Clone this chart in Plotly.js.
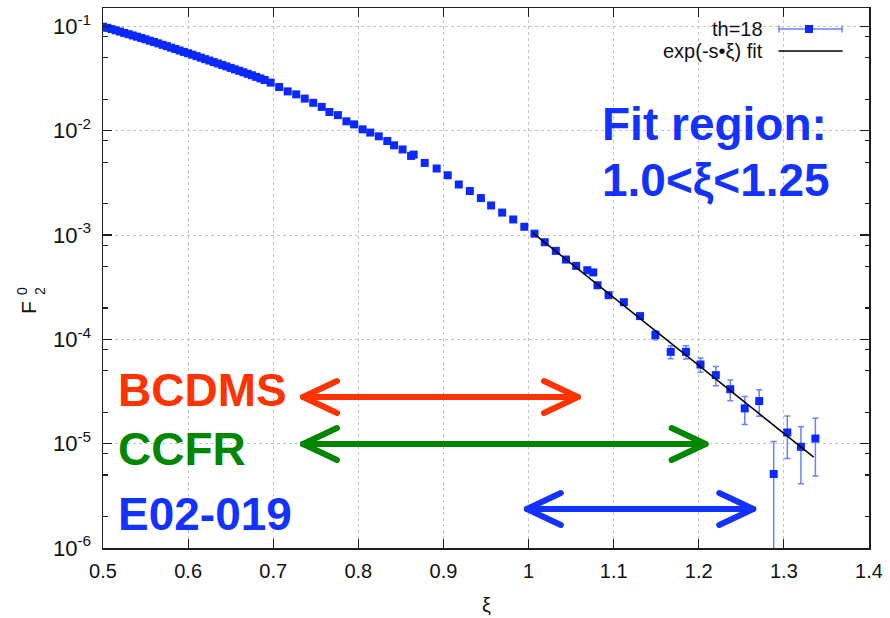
<!DOCTYPE html>
<html>
<head>
<meta charset="utf-8">
<script src="https://cdn.plot.ly/plotly-3.0.1.min.js"></script>
<style>
  html, body { margin: 0; padding: 0; background: #fff; }
  #chart { width: 890px; height: 618px; }
  .shapelayer path { stroke-linecap: round; stroke-linejoin: round; }
</style>
</head>
<body>
<div id="chart"></div>
<script>
// F2 structure function (th=18) versus Nachtmann variable xi
const xi = [
  0.500, 0.505, 0.510, 0.515, 0.520, 0.525, 0.530, 0.535, 0.540, 0.545,
  0.550, 0.555, 0.560, 0.565, 0.570, 0.575, 0.580, 0.585, 0.590, 0.595,
  0.600, 0.605, 0.610, 0.615, 0.620, 0.625, 0.630, 0.635, 0.640, 0.645,
  0.650, 0.655, 0.660, 0.665, 0.670, 0.675, 0.680, 0.685, 0.690,
  0.697, 0.707, 0.717, 0.727, 0.737, 0.747, 0.757, 0.766, 0.776, 0.786,
  0.795, 0.805, 0.814, 0.824, 0.834, 0.842, 0.852, 0.862, 0.865, 0.878,
  0.892, 0.905, 0.918, 0.931, 0.944, 0.956, 0.969, 0.982, 0.995, 1.007,
  1.019, 1.032, 1.044, 1.056, 1.069, 1.076, 1.081, 1.094, 1.112, 1.131,
  1.149, 1.167, 1.185, 1.202, 1.220, 1.237, 1.254, 1.271, 1.288, 1.304,
  1.320, 1.337
];
const F2 = [
  0.0993, 0.0968, 0.0942, 0.0916, 0.0891, 0.0865, 0.0841, 0.0818, 0.0796, 0.0774,
  0.0752, 0.0729, 0.0708, 0.0687, 0.0665, 0.0646, 0.0625, 0.0607, 0.0587, 0.0569,
  0.0552, 0.0535, 0.0518, 0.0501, 0.0485, 0.0470, 0.0455, 0.0441, 0.0427, 0.0413,
  0.0400, 0.0387, 0.0375, 0.0363, 0.0351, 0.0340, 0.0328, 0.0317, 0.0306,
  0.0289, 0.0262, 0.0238, 0.0223, 0.0203, 0.0185, 0.0169, 0.0151, 0.0141, 0.0123,
  0.0115, 0.0103, 0.00959, 0.00883, 0.00796, 0.00724, 0.00661, 0.00573, 0.00590, 0.00491,
  0.00434, 0.00374, 0.00305, 0.00264, 0.00226, 0.00192, 0.00164, 0.00141, 0.00120, 0.00103,
  0.000853, 0.000705, 0.000582, 0.000506, 0.000460, 0.000438, 0.000330, 0.000265, 0.000227, 0.000167,
  0.000110, 7.59e-5, 7.59e-5, 5.74e-5, 4.54e-5, 3.33e-5, 2.18e-5, 2.56e-5, 5.12e-6, 1.28e-5,
  9.33e-6, 1.12e-5
];
const dF2 = [
  0, 0, 0, 0, 0, 0, 0, 0, 0, 0,
  0, 0, 0, 0, 0, 0, 0, 0, 0, 0,
  0, 0, 0, 0, 0, 0, 0, 0, 0, 0,
  0, 0, 0, 0, 0, 0, 0, 0, 0,
  0, 0, 0, 0, 0, 0, 0, 0, 0, 0,
  0, 0, 0, 0, 0, 0, 0, 0, 0, 0,
  0, 0, 0, 0, 0, 0, 0, 0, 0, 0,
  0, 0, 0, 0, 0, 0, 0, 0, 0, 6e-6,
  1.1e-5, 1.07e-5, 1.1e-5, 9e-6, 9.5e-6, 7.5e-6, 6.5e-6, 7.3e-6, 5.4e-6, 5.6e-6,
  5.2e-6, 6.3e-6
];

// exponential fit F = A * exp(-s * xi)
const fitAmp = 3690;
const fitSlope = 15.0;
const fitXi = [1.005, 1.335];

// kinematic coverage of the experiments
const experiments = ['BCDMS', 'CCFR', 'E02-019'];
const expColors = ['rgb(255,51,0)', 'rgb(0,135,0)', 'rgb(20,50,255)'];
const expSpans = [[0.735, 1.058], [0.735, 1.208], [0.998, 1.264]];

const xTicks = [0.5, 0.6, 0.7, 0.8, 0.9, 1.0, 1.1, 1.2, 1.3, 1.4];
const xTickText = ['0.5', '0.6', '0.7', '0.8', '0.9', '1', '1.1', '1.2', '1.3', '1.4'];
const yTicks = [1e-6, 1e-5, 1e-4, 1e-3, 1e-2, 1e-1];
const yExponents = ['-6', '-5', '-4', '-3', '-2', '-1'];
const yMinor = [2e-6, 5e-6, 8e-6, 2e-5, 5e-5, 8e-5, 2e-4, 5e-4, 8e-4, 2e-3, 5e-3, 8e-3, 2e-2, 5e-2, 8e-2];

const FONT = 'Liberation Sans, Arial, Helvetica, sans-serif';
const BLUE = 'rgb(10,40,255)';
const ERRBLUE = 'rgb(105,130,255)';
const FRAME = '#1e1e1e';
const yRange = [-6, -0.824];

const dataTrace = {
  x: xi, y: F2, type: 'scatter', mode: 'markers',
  marker: { symbol: 'square', size: 8, color: BLUE, line: { width: 0 } },
  error_y: { type: 'data', array: dF2, visible: true, color: ERRBLUE, thickness: 1.5, width: 3 },
  hoverinfo: 'x+y', showlegend: false
};
const fitTrace = {
  x: fitXi, y: fitXi.map(v => fitAmp * Math.exp(-fitSlope * v)),
  type: 'scatter', mode: 'lines',
  line: { color: '#000', width: 1.5 },
  hoverinfo: 'skip', showlegend: false
};
const minorAxisHolder = {
  x: [0.5], y: [0.01], yaxis: 'y2', type: 'scatter', mode: 'markers',
  marker: { opacity: 0 }, hoverinfo: 'skip', showlegend: false
};

const baseAxis = {
  showline: true, linecolor: FRAME, linewidth: 1.5, mirror: 'ticks',
  ticks: 'inside', ticklen: 9, tickwidth: 1.2, tickcolor: FRAME,
  showgrid: true, gridcolor: '#c4c4c4', griddash: 'dot', gridwidth: 1,
  zeroline: false,
  tickfont: { family: FONT, size: 20, color: '#111' }
};

// plot area in pixels: x 103..869, y 8..548
const L = 103, R = 869, T = 8, B = 548;
const px = v => (v - L) / (R - L);
const py = v => (B - v) / (B - T);

const shapes = [];
// white panel behind the key
shapes.push({ type: 'rect', xref: 'paper', yref: 'paper', layer: 'between',
  x0: px(588), x1: px(852), y0: py(64), y1: 1, fillcolor: '#fff', line: { width: 0 } });

// key: data symbol with error bar, and fit line
const kx0 = px(779), kx1 = px(842), ky1 = py(29), ky2 = py(51);
shapes.push({ type: 'line', xref: 'paper', yref: 'paper', x0: kx0, x1: kx1, y0: ky1, y1: ky1, line: { color: ERRBLUE, width: 1.5 } });
[kx0, kx1].forEach(k => shapes.push({ type: 'line', xref: 'paper', yref: 'paper', x0: k, x1: k, y0: py(26), y1: py(32), line: { color: ERRBLUE, width: 1.5 } }));
shapes.push({ type: 'rect', xref: 'paper', yref: 'paper', xsizemode: 'pixel', ysizemode: 'pixel',
  xanchor: px(809), yanchor: ky1, x0: -4, x1: 4, y0: -4, y1: 4, fillcolor: BLUE, line: { width: 0 } });
shapes.push({ type: 'line', xref: 'paper', yref: 'paper', x0: kx0, x1: kx1, y0: ky2, y1: ky2, line: { color: '#000', width: 1.5 } });

// double-headed coverage arrows
const arrowY = [py(397), py(444), py(509)];
expSpans.forEach((s, i) => {
  const c = expColors[i], y = arrowY[i];
  shapes.push({ type: 'line', xref: 'x', yref: 'paper', x0: s[0], x1: s[1], y0: y, y1: y, line: { color: c, width: 6 } });
  shapes.push({ type: 'path', xref: 'x', yref: 'paper', xsizemode: 'pixel', ysizemode: 'pixel',
    xanchor: s[1], yanchor: y, path: 'M-34,-16L0,0L-34,16', line: { color: c, width: 6 } });
  shapes.push({ type: 'path', xref: 'x', yref: 'paper', xsizemode: 'pixel', ysizemode: 'pixel',
    xanchor: s[0], yanchor: y, path: 'M34,-16L0,0L34,16', line: { color: c, width: 6 } });
});

const ann = (text, x, y, opts) => Object.assign({
  text, x, y, xref: 'paper', yref: 'paper', showarrow: false,
  xanchor: 'left', yanchor: 'middle', font: { family: FONT, size: 20, color: '#111' }
}, opts || {});

const bigFont = c => ({ family: FONT, size: 46, color: c, weight: 'bold' });
const labelY = [py(390), py(449), py(514)];

const annotations = [
  ann('th=18', px(765), ky1, { xanchor: 'right' }),
  ann('exp(-s•ξ) fit', px(765), ky2, { xanchor: 'right' }),
  ann('<b>Fit region:</b>', px(600), py(124), { font: bigFont(expColors[2]) }),
  ann('<b>1.0&lt;ξ&lt;1.25</b>', px(600), py(180), { font: bigFont(expColors[2]) }),
  ann('ξ', 0.5, py(605), { xanchor: 'center', font: { family: FONT, size: 20, color: '#111' } }),
  ann('F', px(28), py(308), { xanchor: 'center', textangle: -90, font: { family: FONT, size: 21, color: '#111' } }),
  ann('2', px(40), py(291), { xanchor: 'center', textangle: -90, font: { family: FONT, size: 14, color: '#111' } }),
  ann('0', px(22), py(291), { xanchor: 'center', textangle: -90, font: { family: FONT, size: 14, color: '#111' } })
];
experiments.forEach((name, i) => {
  annotations.push(ann('<b>' + name + '</b>', px(116), labelY[i], { font: bigFont(expColors[i]) }));
});

const layout = {
  width: 890, height: 618,
  margin: { l: L, r: 890 - R, t: T, b: 618 - B, pad: 0 },
  paper_bgcolor: '#fff', plot_bgcolor: '#fff',
  showlegend: false,
  font: { family: FONT, color: '#111' },
  xaxis: Object.assign({}, baseAxis, {
    range: [0.5, 1.4], tickmode: 'array', tickvals: xTicks, ticktext: xTickText,
    ticklabelstandoff: 4
  }),
  yaxis: Object.assign({}, baseAxis, {
    type: 'log', range: yRange, tickmode: 'array', tickvals: yTicks,
    ticktext: yExponents.map(e => '10<sup>' + e + '</sup>'),
    tickfont: { family: FONT, size: 22, color: '#111' },
    ticklabelstandoff: 6
  }),
  yaxis2: {
    type: 'log', range: yRange, overlaying: 'y', side: 'left',
    tickmode: 'array', tickvals: yMinor, ticks: 'inside', ticklen: 4.5, tickwidth: 1.2,
    tickcolor: FRAME, showticklabels: false, showgrid: false, zeroline: false,
    showline: true, linecolor: FRAME, linewidth: 1.5, mirror: 'ticks'
  },
  shapes, annotations
};

Plotly.newPlot('chart', [minorAxisHolder, dataTrace, fitTrace], layout, { displayModeBar: false, staticPlot: true });
</script>
</body>
</html>
